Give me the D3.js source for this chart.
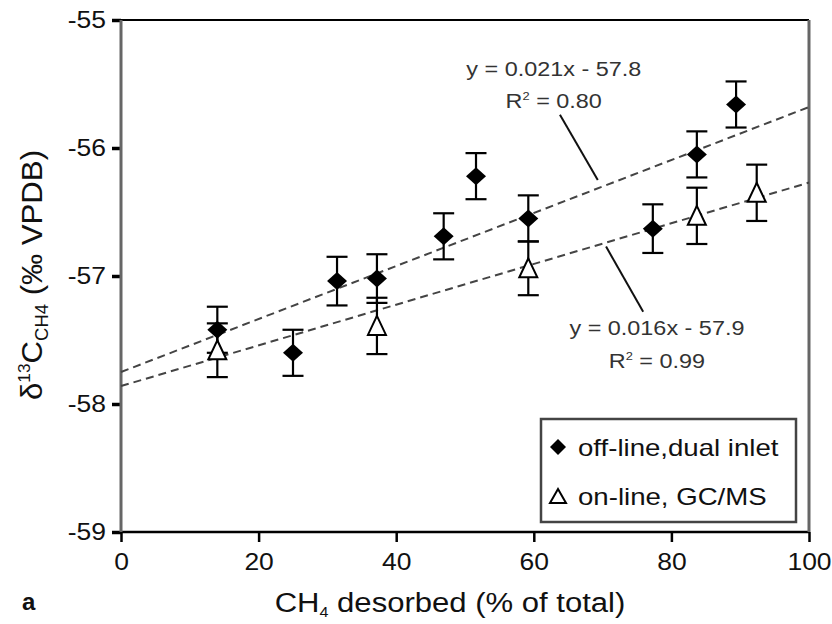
<!DOCTYPE html>
<html>
<head>
<meta charset="utf-8">
<script src="https://cdn.jsdelivr.net/npm/d3@7"></script>
<style>
  body { margin: 0; background: #fff; }
  svg { display: block; font-family: "Liberation Sans", Arial, sans-serif; }
</style>
</head>
<body>
<svg id="chart" width="832" height="624"></svg>
<script>
// off-line, dual inlet (filled diamonds)
const offX = [14, 25, 31.4, 37.2, 46.9, 51.6, 59.2, 77.3, 83.7, 89.4];
const offY = [-57.42, -57.60, -57.04, -57.02, -56.69, -56.22, -56.55, -56.63, -56.05, -55.66];
const offErr = [0.18, 0.18, 0.19, 0.19, 0.18, 0.18, 0.18, 0.19, 0.18, 0.18];

// on-line, GC/MS (open triangles)
const onX = [14, 37.2, 59.2, 83.7, 92.4];
const onY = [-57.58, -57.39, -56.94, -56.53, -56.35];
const onErr = [0.21, 0.22, 0.21, 0.22, 0.22];

// linear fits
const fitSlope = [0.0207, 0.0159];
const fitIntercept = [-57.75, -57.86];
const fitText = [["y = 0.021x - 57.8", "0.80"], ["y = 0.016x - 57.9", "0.99"]];

const xTicks = [0, 20, 40, 60, 80, 100];
const yTicks = [-55, -56, -57, -58, -59];
const legendLabels = ["off-line,dual inlet", "on-line, GC/MS"];

const margin = { top: 20, right: 23, bottom: 92, left: 121 },
      width = 832 - margin.left - margin.right,
      height = 624 - margin.top - margin.bottom;

const svg = d3.select("#chart");
const g = svg.append("g").attr("transform", `translate(${margin.left},${margin.top})`);

const x = d3.scaleLinear().domain([0, 100]).range([0, width]);
const y = d3.scaleLinear().domain([-59, -55]).range([height, 0]);

// the source image is stretched sideways, so widen text a bit
function widen(sel, k) {
  sel.each(function () {
    const w = this.getComputedTextLength();
    d3.select(this).attr("textLength", w * k).attr("lengthAdjust", "spacingAndGlyphs");
  });
}

// Y axis
const yAxis = g.append("g")
  .call(d3.axisLeft(y).tickValues(yTicks).tickFormat(d => String(d)).tickSize(9).tickSizeOuter(0));
yAxis.select(".domain").remove();
yAxis.selectAll("line").attr("stroke", "#000").attr("stroke-width", 3.5);
yAxis.selectAll("text")
  .attr("x", -15)
  .attr("fill", "#111")
  .style("font-size", "23px")
  .style("font-family", "'Liberation Sans', Arial, sans-serif");
widen(yAxis.selectAll("text"), 1.15);

// X axis
const xAxis = g.append("g")
  .attr("transform", `translate(0,${height})`)
  .call(d3.axisBottom(x).tickValues(xTicks).tickSize(10).tickSizeOuter(0));
xAxis.select(".domain").remove();
xAxis.selectAll("line").attr("stroke", "#000").attr("stroke-width", 2.5);
xAxis.selectAll("text")
  .attr("y", 38)
  .attr("dy", 0)
  .attr("fill", "#111")
  .style("font-size", "23px")
  .style("font-family", "'Liberation Sans', Arial, sans-serif");
widen(xAxis.selectAll("text"), 1.15);

// frame
g.append("line").attr("x1", 0).attr("x2", width).attr("y1", 0).attr("y2", 0)
  .attr("stroke", "#000").attr("stroke-width", 2);
g.append("line").attr("x1", 0).attr("x2", width).attr("y1", height).attr("y2", height)
  .attr("stroke", "#000").attr("stroke-width", 2.5);
g.append("line").attr("x1", 0).attr("x2", 0).attr("y1", 0).attr("y2", height)
  .attr("stroke", "#666").attr("stroke-width", 3);
g.append("line").attr("x1", width).attr("x2", width).attr("y1", 0).attr("y2", height)
  .attr("stroke", "#666").attr("stroke-width", 3);

// fit lines
fitSlope.forEach((m, i) => {
  g.append("line")
    .attr("x1", x(0)).attr("y1", y(fitIntercept[i]))
    .attr("x2", x(100)).attr("y2", y(fitIntercept[i] + m * 100))
    .attr("stroke", "#444")
    .attr("stroke-width", 2)
    .attr("stroke-dasharray", "8,5");
});

// fit annotations
const annX = [62.9, 77.9];
const annY = [[-55.44, -55.69], [-57.46, -57.72]];
const leader = [[[63.8, -55.74], [69.3, -56.25]], [[70.5, -56.77], [75.9, -57.28]]];

fitText.forEach((t, i) => {
  const t1 = g.append("text")
    .attr("x", x(annX[i])).attr("y", y(annY[i][0]))
    .attr("text-anchor", "middle")
    .attr("fill", "#333")
    .style("font-size", "20px")
    .text(t[0]);
  widen(t1, 1.17);
  const t2 = g.append("text")
    .attr("x", x(annX[i])).attr("y", y(annY[i][1]))
    .attr("text-anchor", "middle")
    .attr("fill", "#333")
    .style("font-size", "20px");
  t2.append("tspan").text("R");
  t2.append("tspan").attr("dy", -8).style("font-size", "11px").text("2");
  t2.append("tspan").attr("dy", 8).text(" = " + t[1]);
  widen(t2, 1.17);
  g.append("line")
    .attr("x1", x(leader[i][0][0])).attr("y1", y(leader[i][0][1]))
    .attr("x2", x(leader[i][1][0])).attr("y2", y(leader[i][1][1]))
    .attr("stroke", "#111").attr("stroke-width", 2);
});

// markers
const diamond = "M0,-9L10,0L0,9L-10,0Z";
const triangle = "M0,-10L9,9L-9,9Z";
const capW = 10.5;

function errorBars(xs, ys, es) {
  const eb = g.append("g").attr("stroke", "#000").attr("stroke-width", 2.2);
  xs.forEach((xv, i) => {
    const cx = x(xv), top = y(ys[i] + es[i]), bot = y(ys[i] - es[i]);
    eb.append("line").attr("x1", cx).attr("x2", cx).attr("y1", top).attr("y2", bot);
    eb.append("line").attr("x1", cx - capW).attr("x2", cx + capW).attr("y1", top).attr("y2", top);
    eb.append("line").attr("x1", cx - capW).attr("x2", cx + capW).attr("y1", bot).attr("y2", bot);
  });
}
errorBars(offX, offY, offErr);
errorBars(onX, onY, onErr);

g.selectAll("path.off")
  .data(offX.map((d, i) => ({ x: d, y: offY[i] })))
  .join("path")
  .attr("class", "off")
  .attr("d", diamond)
  .attr("transform", d => `translate(${x(d.x)},${y(d.y)})`)
  .attr("fill", "#000");

g.selectAll("path.on")
  .data(onX.map((d, i) => ({ x: d, y: onY[i] })))
  .join("path")
  .attr("class", "on")
  .attr("d", triangle)
  .attr("transform", d => `translate(${x(d.x)},${y(d.y)})`)
  .attr("fill", "#fff")
  .attr("stroke", "#000")
  .attr("stroke-width", 2);

// legend
const lg = svg.append("g").attr("transform", "translate(541,419)");
lg.append("rect").attr("width", 255).attr("height", 103)
  .attr("fill", "#fff").attr("stroke", "#444").attr("stroke-width", 2.5);
lg.append("path").attr("d", "M0,-8L8,0L0,8L-8,0Z").attr("transform", "translate(17,28)").attr("fill", "#000");
lg.append("path").attr("d", "M0,-7L8,7L-8,7Z").attr("transform", "translate(17,77)")
  .attr("fill", "#fff").attr("stroke", "#000").attr("stroke-width", 2);
legendLabels.forEach((l, i) => {
  const t = lg.append("text").attr("x", 37).attr("y", 37 + i * 49)
    .attr("fill", "#111").style("font-size", "24px").text(l);
  widen(t, 1.15);
});

// x title
const xt = svg.append("text")
  .attr("x", 450).attr("y", 612)
  .attr("text-anchor", "middle")
  .attr("fill", "#111")
  .style("font-size", "27px");
xt.append("tspan").text("CH");
xt.append("tspan").attr("dy", 5).style("font-size", "14px").text("4");
xt.append("tspan").attr("dy", -5).text(" desorbed (% of total)");
widen(xt, 1.15);

// y title
const yt = svg.append("text")
  .attr("transform", "translate(42,275) rotate(-90) scale(1,1.12)")
  .attr("text-anchor", "middle")
  .attr("fill", "#111")
  .style("font-size", "27px");
yt.append("tspan").text("δ");
yt.append("tspan").attr("dy", -11).style("font-size", "15px").text("13");
yt.append("tspan").attr("dy", 11).text("C");
yt.append("tspan").attr("dy", 5).style("font-size", "16px").text("CH4");
yt.append("tspan").attr("dy", -5).text(" (‰ VPDB)");
yt.attr("textLength", 250).attr("lengthAdjust", "spacingAndGlyphs");

// panel letter
svg.append("text").attr("x", 22).attr("y", 610)
  .attr("fill", "#111")
  .style("font-size", "24px").style("font-weight", "bold").text("a");
</script>
</body>
</html>
